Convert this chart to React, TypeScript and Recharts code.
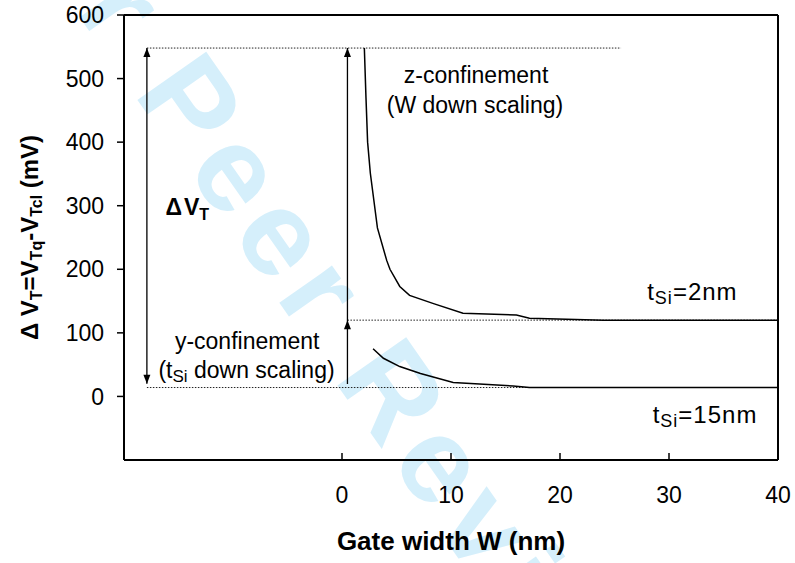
import React from 'react'
import {
  ComposedChart,
  Line,
  XAxis,
  YAxis,
  ReferenceLine,
  ReferenceDot
} from 'recharts'

// tSi = 2nm curve (W in nm, dVT in mV)
const thinW = [2.05, 2.2, 2.35, 2.6, 3.25, 4.1, 4.4, 5.3, 6.2, 8.4, 11.1, 16.0, 17.2, 24, 40]
const thinDVT = [548, 470, 400, 351, 265, 214, 200, 173, 159, 146, 131, 128, 123, 120, 120]

// tSi = 15nm curve
const thickW = [2.85, 3.8, 5.3, 7.2, 10.2, 15.7, 17.2, 40]
const thickDVT = [75, 60, 47, 36, 22, 16.5, 14, 14]

const xTicks = [0, 10, 20, 30, 40]
const yTicks = [0, 100, 200, 300, 400, 500, 600]

// guide levels (mV) and where the arrows sit (nm)
const levelTop = 548
const levelMid = 120
const levelBase = 14
const arrowLeftX = -17.9
const arrowMidX = 0.5

const FONT = '"Liberation Sans", Arial, sans-serif'

const thinData = thinW.map((w, i) => ({ w, v: thinDVT[i] }))
const thickData = thickW.map((w, i) => ({ w, v: thickDVT[i] }))

const arrowUp = (p: any) => (
  <path d={`M${p.cx},${p.cy} L${p.cx - 3.5},${p.cy + 9} L${p.cx + 3.5},${p.cy + 9} Z`} fill="#000" />
)
const arrowDown = (p: any) => (
  <path d={`M${p.cx},${p.cy} L${p.cx - 3.5},${p.cy - 9} L${p.cx + 3.5},${p.cy - 9} Z`} fill="#000" />
)

const note = (content: React.ReactNode, anchor = 'middle', size = 23, weight: any = 'normal', spacing = 0) =>
  (p: any) => (
    <text x={p.cx} y={p.cy} dy="0.35em" textAnchor={anchor} fontSize={size} fontWeight={weight}
      fontFamily={FONT} fill="#000" letterSpacing={spacing}>
      {content}
    </text>
  )

const dotted = { stroke: '#222', strokeWidth: 1, strokeDasharray: '1.5 1.5' }

export default function App() {
  return (
    <div style={{ position: 'absolute', left: 0, top: 0, width: 795, height: 563, background: '#fff', overflow: 'hidden' }}>
      {/* watermark */}
      <svg width={795} height={563} style={{ position: 'absolute', left: 0, top: 0 }}>
        <text x={293} y={322} transform="rotate(55 293 322)" textAnchor="middle" fontSize={122}
          fontWeight="bold" fontFamily={FONT} fill="#d5effb" letterSpacing={10}>
          For Peer Review
        </text>
      </svg>

      <div style={{ position: 'absolute', left: 0, top: 0 }}>
        <ComposedChart width={795} height={563} margin={{ top: 15, right: 17, left: 0, bottom: 0 }}>
          <XAxis
            dataKey="w"
            type="number"
            domain={[-20, 40]}
            ticks={xTicks}
            allowDataOverflow
            height={103}
            tickSize={0}
            tickMargin={0}
            tickLine={false}
            axisLine={{ stroke: '#000', strokeWidth: 2 }}
            tick={(p: any) => (
              <text x={p.x} y={p.y + 43} textAnchor="middle" fontSize={23} fontFamily={FONT} fill="#000">
                {p.payload.value}
              </text>
            )}
            label={{
              content: (p: any) => {
                const vb = p.viewBox
                return (
                  <text x={vb.x + vb.width / 2} y={vb.y + 90} textAnchor="middle" fontSize={26}
                    fontWeight="bold" fontFamily={FONT} fill="#000">
                    Gate width W (nm)
                  </text>
                )
              }
            }}
          />
          <YAxis
            type="number"
            domain={[-100, 600]}
            ticks={yTicks}
            width={124}
            tickSize={7}
            tickMargin={13}
            tickLine={{ stroke: '#000', strokeWidth: 1.5 }}
            axisLine={{ stroke: '#000', strokeWidth: 2 }}
            tick={{ fill: '#000', fontSize: 23, fontFamily: FONT }}
            label={{
              content: (p: any) => {
                const vb = p.viewBox
                const cx = 38
                const cy = vb.y + vb.height / 2
                return (
                  <text x={cx} y={cy} transform={`rotate(-90 ${cx} ${cy})`} textAnchor="middle"
                    fontSize={24} fontWeight="bold" fontFamily={FONT} fill="#000">
                    <tspan>Δ V</tspan>
                    <tspan fontSize={16} dy={4}>T</tspan>
                    <tspan dy={-4}>=V</tspan>
                    <tspan fontSize={16} dy={4}>Tq</tspan>
                    <tspan dy={-4}>-V</tspan>
                    <tspan fontSize={16} dy={4}>Tcl</tspan>
                    <tspan dy={-4}> (mV)</tspan>
                  </text>
                )
              }
            }}
          />

          {/* frame top / right */}
          <ReferenceLine y={600} stroke="#000" strokeWidth={2} />
          <ReferenceLine x={40} stroke="#000" strokeWidth={2} />

          {/* inward x tick marks */}
          {xTicks.map(t => (
            <ReferenceLine key={t} segment={[{ x: t, y: -100 }, { x: t, y: -89 }]} stroke="#000" strokeWidth={1.5} />
          ))}

          {/* dotted guide levels */}
          <ReferenceLine segment={[{ x: arrowLeftX, y: levelTop }, { x: 25.6, y: levelTop }]} {...dotted} />
          <ReferenceLine segment={[{ x: arrowMidX, y: levelMid }, { x: 40, y: levelMid }]} {...dotted} />
          <ReferenceLine segment={[{ x: arrowLeftX, y: levelBase }, { x: 17.2, y: levelBase }]} {...dotted} />

          {/* arrows */}
          <ReferenceLine segment={[{ x: arrowLeftX, y: 20 }, { x: arrowLeftX, y: levelTop }]} stroke="#000" strokeWidth={1.3} />
          <ReferenceDot x={arrowLeftX} y={levelTop} r={0} shape={arrowUp} />
          <ReferenceDot x={arrowLeftX} y={20} r={0} shape={arrowDown} />
          <ReferenceLine segment={[{ x: arrowMidX, y: 19.5 }, { x: arrowMidX, y: levelTop }]} stroke="#000" strokeWidth={1.3} />
          <ReferenceDot x={arrowMidX} y={levelTop} r={0} shape={arrowUp} />
          <ReferenceDot x={arrowMidX} y={levelMid} r={0} shape={arrowUp} />

          <Line data={thinData} dataKey="v" type="linear" dot={false} stroke="#000" strokeWidth={1.5} isAnimationActive={false} />
          <Line data={thickData} dataKey="v" type="linear" dot={false} stroke="#000" strokeWidth={1.5} isAnimationActive={false} />

          {/* annotations */}
          <ReferenceDot x={12.3} y={505.6} r={0} shape={note('z-confinement')} />
          <ReferenceDot x={12.2} y={458.4} r={0} shape={note('(W down scaling)')} />
          <ReferenceDot x={-8.7} y={87.2} r={0} shape={note('y-confinement')} />
          <ReferenceDot x={-8.76} y={41.5} r={0} shape={note(
            <>
              <tspan>(t</tspan>
              <tspan fontSize={17} dy={4}>Si</tspan>
              <tspan dy={-4}> down scaling)</tspan>
            </>
          )} />
          <ReferenceDot x={-16.2} y={298} r={0} shape={note(
            <>
              <tspan>Δ</tspan>
              <tspan dx={2}>V</tspan>
              <tspan fontSize={16} dy={5}>T</tspan>
            </>, 'start', 23, 'bold'
          )} />
          <ReferenceDot x={28.0} y={164.2} r={0} shape={note(
            <>
              <tspan>t</tspan>
              <tspan fontSize={18} dy={4}>Si</tspan>
              <tspan dy={-4}>=2nm</tspan>
            </>, 'start', 24, 'normal', 1
          )} />
          <ReferenceDot x={28.5} y={-29.3} r={0} shape={note(
            <>
              <tspan>t</tspan>
              <tspan fontSize={18} dy={4}>Si</tspan>
              <tspan dy={-4}>=15nm</tspan>
            </>, 'start', 24, 'normal', 1
          )} />
        </ComposedChart>
      </div>
    </div>
  )
}
